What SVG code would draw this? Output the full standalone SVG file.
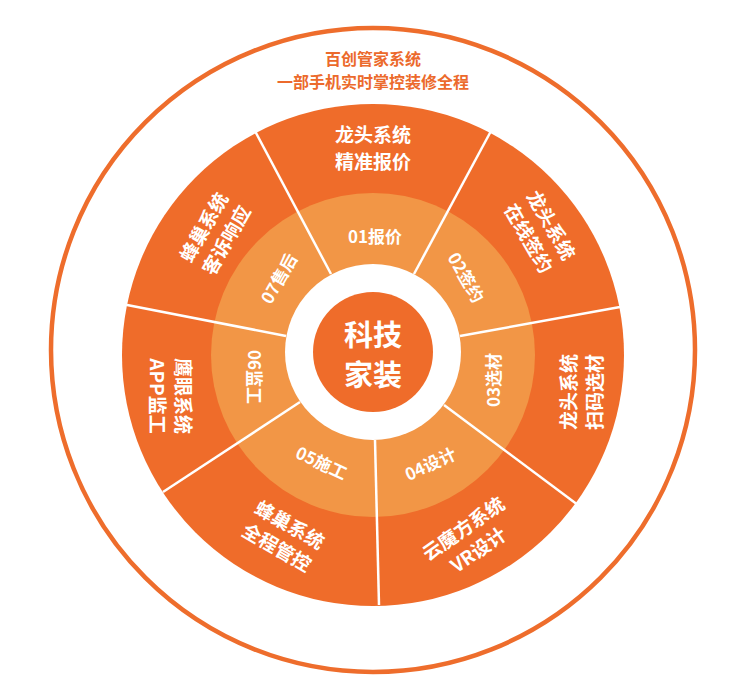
<svg xmlns="http://www.w3.org/2000/svg" width="752" height="695" viewBox="0 0 752 695">
<style>
text{font-family:"Noto Sans CJK SC","Noto Sans",sans-serif;font-weight:bold;text-anchor:middle;dominant-baseline:central;fill:#fff}
.s{font-size:19px}.n{font-size:17px}.t{font-size:16px;fill:#EC6A2C}
.d{stroke:#fff;stroke-width:2.5}
</style>
<rect width="752" height="695" fill="#fff"/>
<circle cx="373" cy="350" r="322" fill="none" stroke="#EE6D2C" stroke-width="4.5"/>
<g id="title"><text class="t" x="373" y="58">百创管家系统</text><text class="t" x="373" y="81">一部手机实时掌控装修全程</text></g>
<circle cx="373" cy="355" r="251" fill="#EF6C2A"/>
<circle cx="373" cy="355" r="162" fill="#F29646"/>
<circle cx="373" cy="352" r="88" fill="#fff"/>
<circle cx="373" cy="352" r="60" fill="#EF6C2A"/>
<g id="connectors" class="d">
<line x1="331" y1="274" x2="255" y2="131"/>
<line x1="414" y1="274" x2="491" y2="131"/>
<line x1="460" y1="336" x2="620" y2="307"/>
<line x1="444" y1="405" x2="578" y2="505"/>
<line x1="375" y1="440" x2="379" y2="605"/>
<line x1="300" y1="402" x2="163" y2="492"/>
<line x1="286" y1="336" x2="122" y2="304"/>
</g>
<g id="center"><text x="373" y="333" style="font-size:29px">科技</text><text x="373" y="373" style="font-size:29px">家装</text></g>
<g id="s01"><text class="s" x="373" y="133">龙头系统</text><text class="s" x="373" y="160">精准报价</text><text class="n" x="375" y="235">01报价</text></g>
<g id="s02"><g transform="translate(541,231) rotate(60)"><text class="s" y="-13">龙头系统</text><text class="s" y="13">在线签约</text></g><text class="n" transform="translate(467,277) rotate(60)">02签约</text></g>
<g id="s03"><g transform="translate(580,392) rotate(-90)"><text class="s" y="-13">龙头系统</text><text class="s" y="13">扫码选材</text></g><text class="n" transform="translate(492,380) rotate(-90)">03选材</text></g>
<g id="s04"><g transform="translate(470,538) rotate(-35)"><text class="s" y="-13">云魔方系统</text><text class="s" y="13">VR设计</text></g><text class="n" transform="translate(430,463) rotate(-25)">04设计</text></g>
<g id="s05"><g transform="translate(284,535) rotate(30)"><text class="s" y="-13">蜂巢系统</text><text class="s" y="13">全程管控</text></g><text class="n" transform="translate(322,462) rotate(25)">05施工</text></g>
<g id="s06"><g transform="translate(171,396) rotate(90)"><text class="s" y="-13">鹰眼系统</text><text class="s" y="13">APP监工</text></g><text class="n" transform="translate(255,377) rotate(90)">06监工</text></g>
<g id="s07"><g transform="translate(214,233) rotate(-60)"><text class="s" y="-13">蜂巢系统</text><text class="s" y="13">客诉响应</text></g><text class="n" transform="translate(278,278) rotate(-60)">07售后</text></g>
</svg>
